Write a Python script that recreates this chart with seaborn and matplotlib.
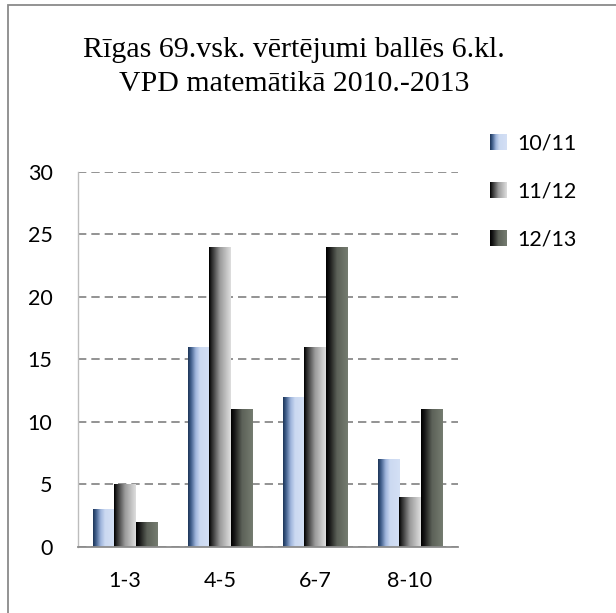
import numpy as np
import pandas as pd
import matplotlib
matplotlib.use("Agg")
import matplotlib.pyplot as plt
from matplotlib.colors import LinearSegmentedColormap
import seaborn as sns

sns.set_style("white")
plt.rcParams['font.family'] = ['Lato', 'DejaVu Sans']
plt.rcParams['text.color'] = 'black'
plt.rcParams['xtick.color'] = 'black'
plt.rcParams['ytick.color'] = 'black'

grades = ["1-3", "4-5", "6-7", "8-10"]
years = ["10/11", "11/12", "12/13"]
v_1011 = [3, 16, 12, 7]
v_1112 = [5, 24, 16, 4]
v_1213 = [2, 11, 24, 11]

title = "Rīgas 69.vsk. vērtējumi ballēs 6.kl.\nVPD matemātikā 2010.-2013"

# gradient stops for each series (left -> right across a bar)
grad_stops = {
    "10/11": [(0.0, "#1d3558"), (0.12, "#3c5a86"), (0.35, "#9fb5dc"), (0.55, "#cbd9f1"), (1.0, "#d4e0f5")],
    "11/12": [(0.0, "#000000"), (0.12, "#2a2a2a"), (0.5, "#9a9a9a"), (1.0, "#dedede")],
    "12/13": [(0.0, "#000000"), (0.15, "#161616"), (0.5, "#5c6158"), (1.0, "#757c70")],
}
mid_colors = ["#a9bde0", "#9a9a9a", "#5c6158"]

df = pd.DataFrame({
    "grade": grades * 3,
    "year": [y for y in years for _ in grades],
    "count": v_1011 + v_1112 + v_1213,
})

fig = plt.figure(figsize=(6.16, 6.13), dpi=100)
ax = fig.add_axes([77.5 / 616, 1 - 547 / 613, 380 / 616, 375.4 / 613])

sns.barplot(data=df, x="grade", y="count", hue="year", palette=mid_colors,
            saturation=1, width=0.67, gap=0, linewidth=0, ax=ax, legend=True)


def gradient_img(stops, n=64):
    cmap = LinearSegmentedColormap.from_list("g", stops)
    return cmap(np.linspace(0, 1, n))[np.newaxis, :, :]


for yr, cont in zip(years, ax.containers):
    img = gradient_img(grad_stops[yr])
    for bar in cont:
        x0, y0 = bar.get_x(), bar.get_y()
        w, h = bar.get_width(), bar.get_height()
        im = ax.imshow(img, extent=[x0, x0 + w, y0, y0 + h], aspect="auto",
                       interpolation="bilinear", zorder=bar.get_zorder() + 0.1)
        im.set_clip_path(bar)

ax.set_xlim(-0.5, 3.5)
ax.set_ylim(0, 30)
ax.set_yticks(range(0, 31, 5))
ax.set_xlabel("")
ax.set_ylabel("")
ax.yaxis.grid(True, color="#808080", linestyle=(0, (5, 3)), linewidth=1.2)
ax.set_axisbelow(True)
for s in ["top", "right"]:
    ax.spines[s].set_visible(False)
ax.spines["bottom"].set_color("#8c8c8c")
ax.spines["bottom"].set_linewidth(1.3)
ax.spines["left"].set_color("#bdbdbd")
ax.spines["left"].set_linewidth(1.0)
ax.tick_params(axis="y", length=3, width=1.0, color="#bdbdbd", pad=15, labelsize=15.5)
ax.tick_params(axis="x", length=0, pad=17, labelsize=15.5)

leg = ax.legend(loc="upper left", bbox_to_anchor=(481 / 616, 1 - 125 / 613),
                bbox_transform=fig.transFigure, frameon=False, fontsize=15.5,
                handlelength=0.75, handleheight=0.75, handletextpad=0.55,
                labelspacing=1.3, borderaxespad=0)

fig.text(294 / 616, 1 - 67 / 613, title, ha="center", va="center",
         family="Liberation Serif", fontsize=21.5, linespacing=1.4)

fig.patches.append(plt.Rectangle((8 / 616, -0.1), 1.2, 1.1 - 5 / 613,
                                 transform=fig.transFigure, fill=False,
                                 edgecolor="#8a8a8a", linewidth=1.3))

# paint gradients into the legend squares too
fig.canvas.draw()
renderer = fig.canvas.get_renderer()
for yr, h in zip(years, leg.legend_handles):
    bb = h.get_window_extent(renderer).transformed(fig.transFigure.inverted())
    lax = fig.add_axes([bb.x0, bb.y0, bb.width, bb.height])
    lax.imshow(gradient_img(grad_stops[yr]), aspect="auto", interpolation="bilinear")
    lax.set_axis_off()

fig.savefig("out.png", dpi=100)
